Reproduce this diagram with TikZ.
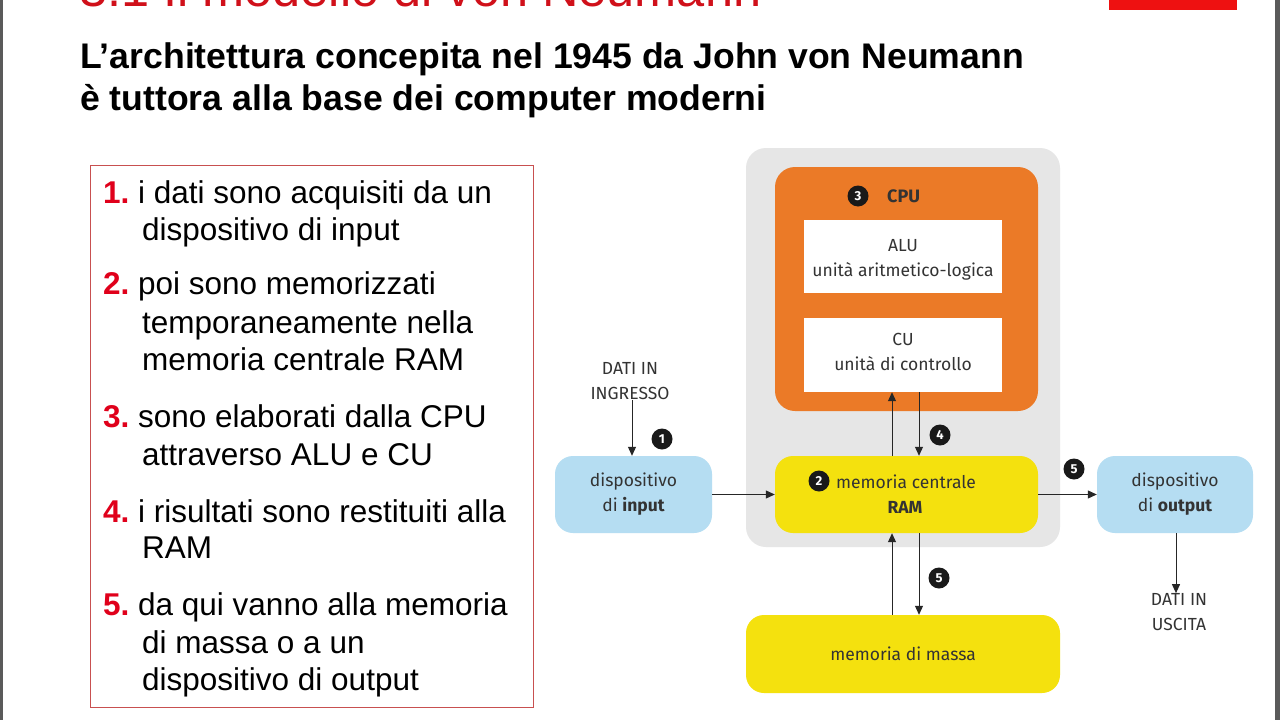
\documentclass[tikz,border=0pt]{standalone}
\usepackage{fontspec}
\setmainfont{Liberation Sans}
\newfontfamily\subfont{Liberation Sans}
\newfontfamily\diafont{Fira Sans}
\usetikzlibrary{arrows.meta}
\definecolor{titlered}{HTML}{D0101A}
\definecolor{barred}{HTML}{EE1111}
\definecolor{numred}{HTML}{E0001B}
\definecolor{boxred}{HTML}{C85050}
\definecolor{panelgray}{HTML}{E6E6E6}
\definecolor{cpuorange}{HTML}{EB7A27}
\definecolor{ramyellow}{HTML}{F4E10E}
\definecolor{devblue}{HTML}{B5DDF2}
\definecolor{diatext}{HTML}{333333}
\definecolor{edgegray}{HTML}{5A5A5A}
\newcommand{\numr}[1]{\textcolor{numred}{\bfseries #1}}
\begin{document}
\begin{tikzpicture}[x=1pt,y=-1pt,
  listtxt/.style={anchor=base west, inner sep=0pt, font=\fontsize{31.5}{37}\selectfont, text=black},
  box/.style={inner sep=0pt, rounded corners=18pt},
  whitebox/.style={fill=white, inner sep=0pt, minimum width=198pt, minimum height=73pt},
  devbox/.style={box, fill=devblue, minimum width=157pt, minimum height=77pt, align=center, text=diatext, font=\diafont\fontsize{17.5}{25}\selectfont},
  diatxt/.style={inner sep=0pt, text=diatext, font=\diafont\fontsize{17.5}{25}\selectfont, align=center},
  badge/.style={circle, fill=black!90, text=white, inner sep=0pt, minimum size=21pt, font=\diafont\bfseries\fontsize{13}{13}\selectfont},
  arr/.style={-{Triangle[width=8pt,length=9pt]}, line width=1pt, draw=black!85}]
\useasboundingbox (0,0) rectangle (1280,720);
\fill[white] (0,0) rectangle (1280,720);
\fill[edgegray] (0,0) rectangle (3,720);
\fill[edgegray] (1275,0) rectangle (1280,720);
% title (cut at top)
\begin{scope}
\clip (0,0) rectangle (1280,720);
\node[anchor=base west, inner sep=0pt, text=titlered, font=\fontsize{50.5}{50.5}\selectfont] (title) at (79,6) {3.1 Il modello di von Neumann};
\node[fill=barred, anchor=north west, minimum width=128pt, minimum height=10pt, inner sep=0pt] (bar) at (1109,0) {};
\end{scope}
% subtitle
\node[anchor=base west, inner sep=0pt, font=\subfont\bfseries\fontsize{35.6}{42}\selectfont] (sub1) at (80,68) {L’architettura concepita nel 1945 da John von Neumann};
\node[anchor=base west, inner sep=0pt, font=\subfont\bfseries\fontsize{35.6}{42}\selectfont] (sub2) at (80,110) {è tuttora alla base dei computer moderni};
% list box
\node[draw=boxred, line width=1pt, minimum width=443pt, minimum height=542pt, inner sep=0pt] (listbox) at (311.5,436) {};
\node[listtxt] (n1) at (103,203) {\numr{1.}};
\node[listtxt] (t1a) at (138,203) {i dati sono acquisiti da un};
\node[listtxt] (t1b) at (142,240) {dispositivo di input};
\node[listtxt] (n2) at (103,294) {\numr{2.}};
\node[listtxt] (t2a) at (138,294) {poi sono memorizzati};
\node[listtxt] (t2b) at (142,333) {temporaneamente nella};
\node[listtxt] (t2c) at (142,370) {memoria centrale RAM};
\node[listtxt] (n3) at (103,427) {\numr{3.}};
\node[listtxt] (t3a) at (138,427) {sono elaborati dalla CPU};
\node[listtxt] (t3b) at (142,465) {attraverso ALU e CU};
\node[listtxt] (n4) at (103,522) {\numr{4.}};
\node[listtxt] (t4a) at (138,522) {i risultati sono restituiti alla};
\node[listtxt] (t4b) at (142,558) {RAM};
\node[listtxt] (n5) at (103,615) {\numr{5.}};
\node[listtxt] (t5a) at (138,615) {da qui vanno alla memoria};
\node[listtxt] (t5b) at (142,653) {di massa o a un};
\node[listtxt] (t5c) at (142,690) {dispositivo di output};
% diagram
\node[box, rounded corners=20pt, fill=panelgray, minimum width=314pt, minimum height=399pt] (panel) at (903,347.5) {};
\node[box, rounded corners=20pt, fill=cpuorange, minimum width=263pt, minimum height=244pt] (cpu) at (906.5,289) {};
\node[badge] (b3) at (858,196) {3};
\node[diatxt, anchor=west, font=\diafont\bfseries\fontsize{18}{18}\selectfont] (cpulbl) at (887,196) {CPU};
\node[whitebox] (alu) at (903,256.5) {};
\node[diatxt] (alulbl) at (903,259.5) {ALU\\unità aritmetico-logica};
\node[whitebox, minimum height=74pt] (cu) at (903,355) {};
\node[diatxt] (culbl) at (903,351.5) {CU\\unità di controllo};
\node[box, fill=ramyellow, minimum width=263pt, minimum height=77pt] (ram) at (906.5,494.5) {};
\node[badge] (b2) at (819,481) {2};
\node[diatxt, anchor=west] (ramlbl) at (836,482) {memoria centrale};
\node[diatxt, font=\diafont\bfseries\fontsize{17.5}{25}\selectfont] (ramlbl2) at (905,507) {RAM};
\node[devbox] (input) at (633.5,494.5) {dispositivo\\di \textbf{input}};
\node[devbox, minimum width=156pt] (output) at (1175,494.5) {dispositivo\\di \textbf{output}};
\node[box, fill=ramyellow, minimum width=314pt, minimum height=78pt, text=diatext, font=\diafont\fontsize{17.5}{25}\selectfont] (massa) at (903,654) {memoria di massa};
\node[diatxt] (datiin) at (630,381) {DATI IN\\INGRESSO};
\node[diatxt] (datiout) at (1179,612) {DATI IN\\USCITA};
\coordinate (upx) at (892,0);
\coordinate (dnx) at (919,0);
\coordinate (inx) at (632,0);
\coordinate (outx) at (1176,0);
% connectors
\draw[arr] (datiin.south -| inx) -- (input.north -| inx);
\draw[arr] (input.east) -- (ram.west);
\draw[arr] (ram.east) -- (output.west);
\draw[arr] (output.south -| outx) -- (datiout.north -| outx);
\draw[arr] (ram.north -| upx) -- (cu.south -| upx);
\draw[arr] (cu.south -| dnx) -- (ram.north -| dnx);
\draw[arr] (massa.north -| upx) -- (ram.south -| upx);
\draw[arr] (ram.south -| dnx) -- (massa.north -| dnx);
\node[badge] (b1) at (662,439) {1};
\node[badge] (b4) at (940,435) {4};
\node[badge] (b5a) at (1074,469) {5};
\node[badge] (b5b) at (939,578) {5};
\end{tikzpicture}
\end{document}
